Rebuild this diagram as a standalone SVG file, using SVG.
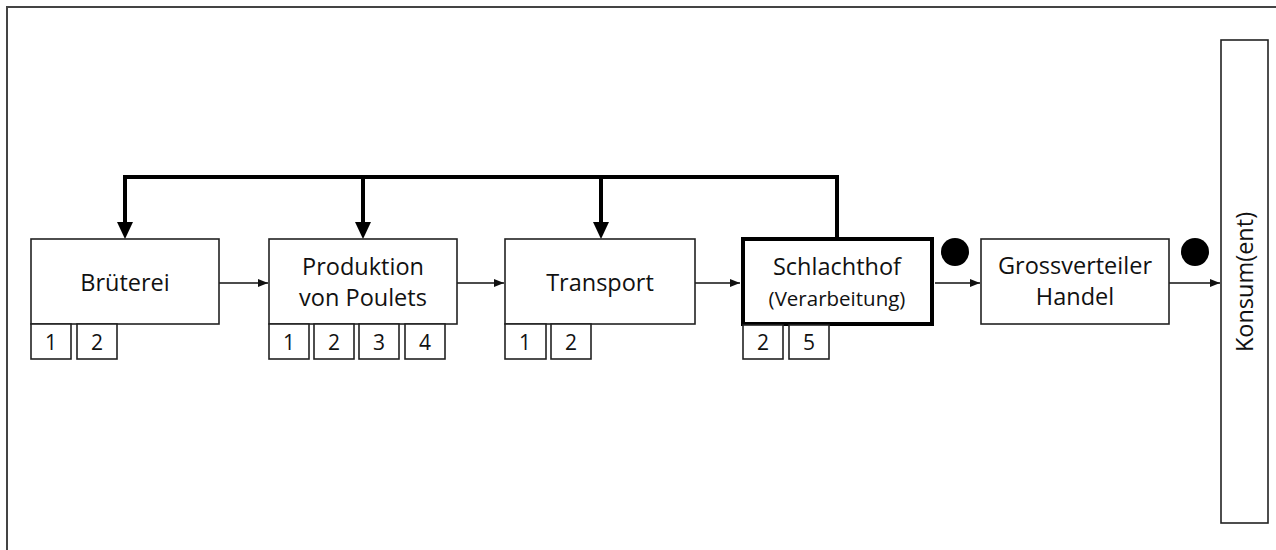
<svg xmlns="http://www.w3.org/2000/svg" width="1276" height="550" viewBox="0 0 1276 550">
<style>
.box{fill:#fff;stroke:#222;stroke-width:1.6}
.thick{fill:#fff;stroke:#000;stroke-width:4}
.t{font-family:"Open Sans","Liberation Sans",sans-serif;font-size:23.5px;fill:#111;text-anchor:middle}
.s{font-family:"Open Sans","Liberation Sans",sans-serif;font-size:20.5px;fill:#111;text-anchor:middle}
.n{font-family:"Open Sans","Liberation Sans",sans-serif;font-size:21px;fill:#111;text-anchor:middle}
.thin{fill:none;stroke:#111;stroke-width:1.6}
.fb{fill:none;stroke:#000;stroke-width:4}
</style>
<defs>
<marker id="a" markerWidth="10" markerHeight="8" refX="10" refY="4" orient="auto" markerUnits="userSpaceOnUse"><path d="M0,0 L10,4 L0,8 Z" fill="#111"/></marker>
</defs>
<g id="frame"><path d="M7,550 L7,7 L1276,7" fill="none" stroke="#444" stroke-width="2"/></g>
<g id="connectors">
<path class="fb" d="M837,238 L837,177 L125,177 L125,223"/>
<path class="fb" d="M363,177 L363,223"/>
<path class="fb" d="M601,177 L601,223"/>
<path d="M117,222 L125,239 L133,222 Z" fill="#000"/>
<path d="M355,222 L363,239 L371,222 Z" fill="#000"/>
<path d="M593,222 L601,239 L609,222 Z" fill="#000"/>
<line class="thin" x1="219" y1="283" x2="268" y2="283" marker-end="url(#a)"/>
<line class="thin" x1="457" y1="283" x2="504" y2="283" marker-end="url(#a)"/>
<line class="thin" x1="695" y1="283" x2="740" y2="283" marker-end="url(#a)"/>
<line class="thin" x1="935" y1="283" x2="980" y2="283" marker-end="url(#a)"/>
<line class="thin" x1="1169" y1="283" x2="1220" y2="283" marker-end="url(#a)"/>
</g>
<g id="brueterei">
<rect class="box" x="31" y="239" width="188" height="85"/>
<text class="t" x="125" y="291">Brüterei</text>
<rect class="box" x="31" y="324" width="40" height="35"/><text class="n" x="51" y="350">1</text>
<rect class="box" x="77" y="324" width="40" height="35"/><text class="n" x="97" y="350">2</text>
</g>
<g id="produktion">
<rect class="box" x="269" y="239" width="188" height="85"/>
<text class="t" x="363" y="275">Produktion</text>
<text class="t" x="363" y="306">von Poulets</text>
<rect class="box" x="269" y="324" width="40" height="35"/><text class="n" x="289" y="350">1</text>
<rect class="box" x="314" y="324" width="40" height="35"/><text class="n" x="334" y="350">2</text>
<rect class="box" x="359" y="324" width="40" height="35"/><text class="n" x="379" y="350">3</text>
<rect class="box" x="405" y="324" width="40" height="35"/><text class="n" x="425" y="350">4</text>
</g>
<g id="transport">
<rect class="box" x="505" y="239" width="190" height="85"/>
<text class="t" x="600" y="291">Transport</text>
<rect class="box" x="505" y="324" width="41" height="35"/><text class="n" x="525" y="350">1</text>
<rect class="box" x="551" y="324" width="40" height="35"/><text class="n" x="571" y="350">2</text>
</g>
<g id="schlachthof">
<rect class="thick" x="743" y="239" width="189" height="85"/>
<text class="t" x="837" y="275">Schlachthof</text>
<text class="s" x="837" y="306">(Verarbeitung)</text>
<rect class="box" x="743" y="325" width="40" height="34"/><text class="n" x="763" y="350">2</text>
<rect class="box" x="789" y="325" width="40" height="34"/><text class="n" x="809" y="350">5</text>
</g>
<g id="dot1"><circle cx="955" cy="252" r="14" fill="#000"/></g>
<g id="grossverteiler">
<rect class="box" x="981" y="239" width="188" height="85"/>
<text class="t" x="1075" y="274">Grossverteiler</text>
<text class="t" x="1075" y="305">Handel</text>
</g>
<g id="dot2"><circle cx="1195" cy="252" r="14" fill="#000"/></g>
<g id="konsum">
<rect class="box" x="1221" y="40" width="47" height="483"/>
<text class="t" transform="translate(1253,282) rotate(-90)" x="0" y="0">Konsum(ent)</text>
</g>
</svg>
